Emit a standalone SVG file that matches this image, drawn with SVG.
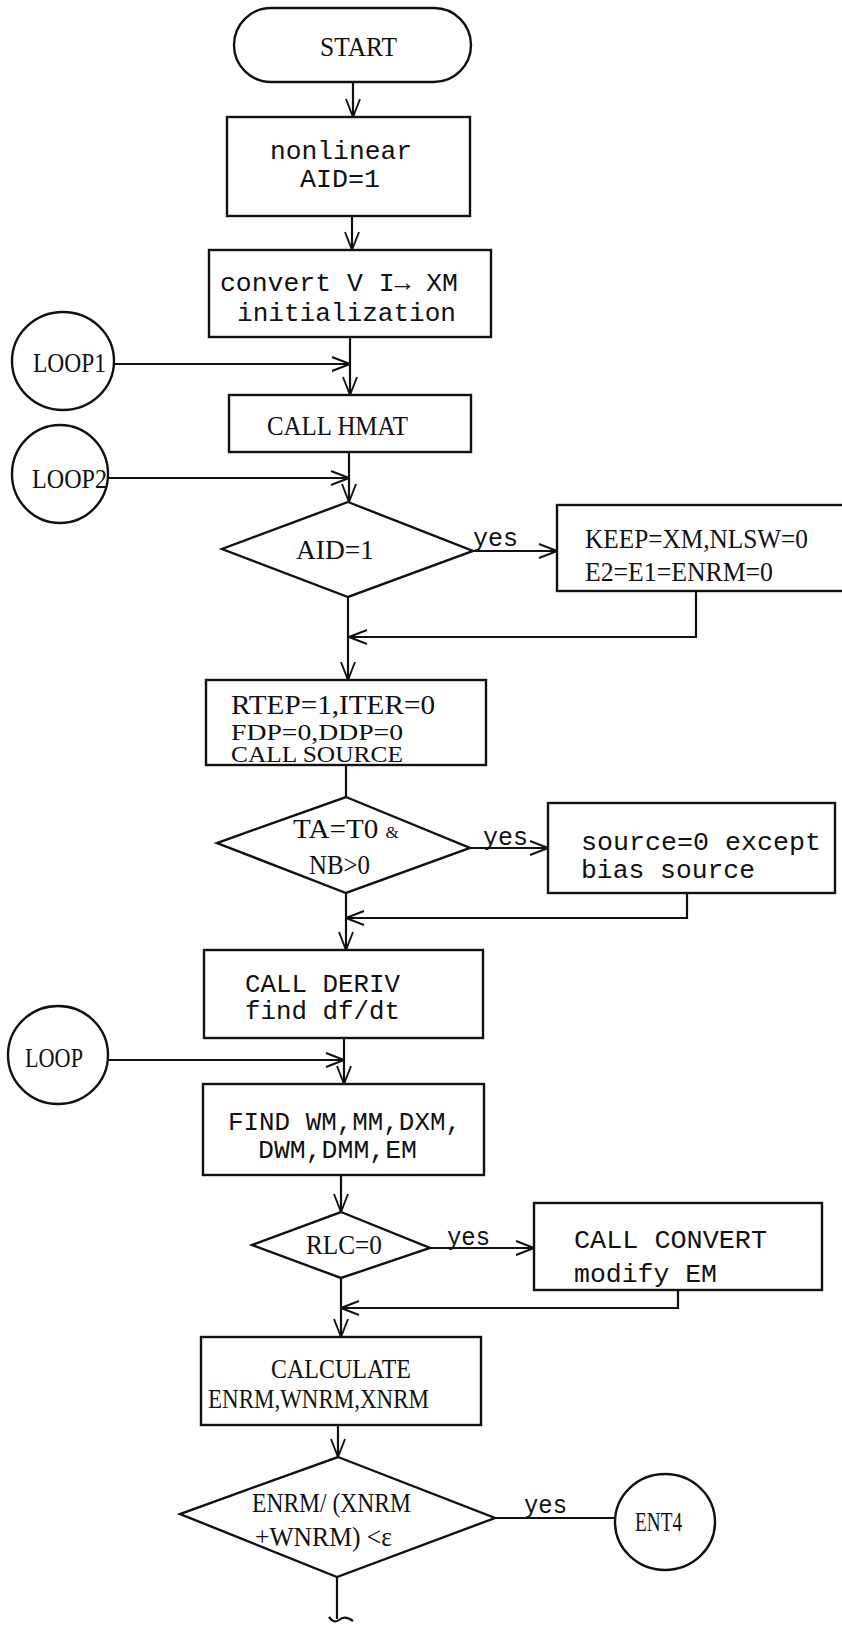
<svg xmlns="http://www.w3.org/2000/svg" width="842" height="1625" viewBox="0 0 842 1625">
  <defs>
    <marker id="arr" viewBox="0 0 20 16" refX="19" refY="8" markerWidth="20" markerHeight="16" markerUnits="userSpaceOnUse" orient="auto">
      <path d="M1,1 L19,8 L1,15" fill="none" stroke="#111" stroke-width="1.9"/>
    </marker>
  </defs>
  <style>
    .box { fill: #fff; stroke: #111; stroke-width: 2.4; }
    .ln { fill: none; stroke: #111; stroke-width: 2.2; }
    .ar { marker-end: url(#arr); }
    .mono { font-family: "Liberation Mono", "DejaVu Sans Mono", monospace; font-size: 26px; fill: #111; }
    .serif { font-family: "Liberation Serif", "DejaVu Serif", serif; font-size: 27px; fill: #111; }
    .tight { font-size: 23px; }
  </style>
  <rect width="842" height="1625" fill="#fff"/>

  <!-- connectors -->
  <g id="connectors">
    <path class="ln ar" d="M353,82 V117"/>
    <path class="ln ar" d="M352,216 V250"/>
    <path class="ln ar" d="M350,337 V395"/>
    <path class="ln ar" d="M113,364 H350"/>
    <path class="ln ar" d="M349,452 V502"/>
    <path class="ln ar" d="M108,478 H349"/>
    <path class="ln ar" d="M473,551 H557"/>
    <path class="ln ar" d="M696,591 V637 H349"/>
    <path class="ln ar" d="M348,597 V680"/>
    <path class="ln" d="M346,765 V797"/>
    <path class="ln ar" d="M470,848 H548"/>
    <path class="ln ar" d="M687,893 V918 H346"/>
    <path class="ln ar" d="M346,893 V950"/>
    <path class="ln ar" d="M344,1038 V1084"/>
    <path class="ln ar" d="M108,1060 H344"/>
    <path class="ln ar" d="M341,1175 V1212"/>
    <path class="ln ar" d="M430,1248 H534"/>
    <path class="ln ar" d="M678,1290 V1308 H341"/>
    <path class="ln ar" d="M341,1278 V1337"/>
    <path class="ln ar" d="M338,1425 V1457"/>
    <path class="ln" d="M495,1518 H615"/>
    <path class="ln" d="M337,1577 V1619"/>
    <path class="ln" d="M329,1617 q5,7 10,3 q6,-5 14,1" stroke-width="2.8"/>
  </g>

  <g id="start">
    <rect class="box" x="234" y="8" width="237" height="74" rx="37"/>
    <text class="serif" x="320" y="56" textLength="77" lengthAdjust="spacingAndGlyphs">START</text>
  </g>

  <g id="nonlinear">
    <rect class="box" x="227" y="117" width="243" height="99"/>
    <text class="mono" x="270" y="159" textLength="142" lengthAdjust="spacingAndGlyphs">nonlinear</text>
    <text class="mono" x="300" y="187" textLength="80" lengthAdjust="spacingAndGlyphs">AID=1</text>
  </g>

  <g id="convert">
    <rect class="box" x="209" y="250" width="282" height="87"/>
    <text class="mono" x="220" y="291" textLength="238" lengthAdjust="spacingAndGlyphs">convert V I→ XM</text>
    <text class="mono" x="237" y="321" textLength="219" lengthAdjust="spacingAndGlyphs">initialization</text>
  </g>

  <g id="loop1">
    <ellipse class="box" cx="63" cy="361" rx="51" ry="49"/>
    <text class="serif" x="33" y="372" textLength="73" lengthAdjust="spacingAndGlyphs">LOOP1</text>
  </g>

  <g id="hmat">
    <rect class="box" x="229" y="395" width="242" height="57"/>
    <text class="serif" x="267" y="435" textLength="141" lengthAdjust="spacingAndGlyphs">CALL HMAT</text>
  </g>

  <g id="loop2">
    <ellipse class="box" cx="60" cy="474" rx="48" ry="49"/>
    <text class="serif" x="32" y="488" textLength="75" lengthAdjust="spacingAndGlyphs">LOOP2</text>
  </g>

  <g id="aid-check">
    <polygon class="box" points="348,502 473,551 348,597 222,549"/>
    <text class="serif" x="296" y="559" textLength="78" lengthAdjust="spacingAndGlyphs">AID=1</text>
    <text class="mono" x="473" y="546" textLength="45" lengthAdjust="spacingAndGlyphs">yes</text>
  </g>

  <g id="keep">
    <rect class="box" x="557" y="505" width="293" height="86"/>
    <text class="serif" x="585" y="548" textLength="223" lengthAdjust="spacingAndGlyphs">KEEP=XM,NLSW=0</text>
    <text class="serif" x="585" y="581" textLength="188" lengthAdjust="spacingAndGlyphs">E2=E1=ENRM=0</text>
  </g>

  <g id="rtep">
    <rect class="box" x="206" y="680" width="280" height="85"/>
    <text class="serif" x="231" y="714" textLength="204" lengthAdjust="spacingAndGlyphs">RTEP=1,ITER=0</text>
    <text class="serif tight" x="231" y="740" textLength="172" lengthAdjust="spacingAndGlyphs">FDP=0,DDP=0</text>
    <text class="serif tight" x="231" y="762" textLength="172" lengthAdjust="spacingAndGlyphs">CALL SOURCE</text>
  </g>

  <g id="ta-check">
    <polygon class="box" points="346,797 470,848 346,893 217,843"/>
    <text class="serif" x="293" y="838" textLength="106" lengthAdjust="spacingAndGlyphs">TA=T0 <tspan font-size="16">&amp;</tspan></text>
    <text class="serif" x="309" y="874" textLength="61" lengthAdjust="spacingAndGlyphs">NB&gt;0</text>
    <text class="mono" x="483" y="845" textLength="45" lengthAdjust="spacingAndGlyphs">yes</text>
  </g>

  <g id="source">
    <rect class="box" x="548" y="803" width="287" height="90"/>
    <text class="mono" x="581" y="850" textLength="240" lengthAdjust="spacingAndGlyphs">source=0 except</text>
    <text class="mono" x="581" y="878" textLength="174" lengthAdjust="spacingAndGlyphs">bias source</text>
  </g>

  <g id="deriv">
    <rect class="box" x="204" y="950" width="279" height="88"/>
    <text class="mono" x="245" y="992" textLength="155" lengthAdjust="spacingAndGlyphs">CALL DERIV</text>
    <text class="mono" x="245" y="1019" textLength="155" lengthAdjust="spacingAndGlyphs">find df/dt</text>
  </g>

  <g id="loop">
    <ellipse class="box" cx="58" cy="1055" rx="50" ry="49"/>
    <text class="serif" x="25" y="1067" textLength="58" lengthAdjust="spacingAndGlyphs">LOOP</text>
  </g>

  <g id="find">
    <rect class="box" x="203" y="1084" width="281" height="91"/>
    <text class="mono" x="228" y="1130" textLength="233" lengthAdjust="spacingAndGlyphs">FIND WM,MM,DXM,</text>
    <text class="mono" x="258" y="1158" textLength="159" lengthAdjust="spacingAndGlyphs">DWM,DMM,EM</text>
  </g>

  <g id="rlc-check">
    <polygon class="box" points="341,1212 430,1248 341,1278 252,1245"/>
    <text class="serif" x="306" y="1254" textLength="76" lengthAdjust="spacingAndGlyphs">RLC=0</text>
    <text class="mono" x="447" y="1245" textLength="43" lengthAdjust="spacingAndGlyphs">yes</text>
  </g>

  <g id="call-convert">
    <rect class="box" x="534" y="1203" width="288" height="87"/>
    <text class="mono" x="574" y="1248" textLength="193" lengthAdjust="spacingAndGlyphs">CALL CONVERT</text>
    <text class="mono" x="574" y="1282" textLength="143" lengthAdjust="spacingAndGlyphs">modify EM</text>
  </g>

  <g id="calculate">
    <rect class="box" x="201" y="1337" width="280" height="88"/>
    <text class="serif" x="271" y="1378" textLength="140" lengthAdjust="spacingAndGlyphs">CALCULATE</text>
    <text class="serif" x="208" y="1408" textLength="221" lengthAdjust="spacingAndGlyphs">ENRM,WNRM,XNRM</text>
  </g>

  <g id="norm-check">
    <polygon class="box" points="338,1457 495,1518 337,1577 180,1514"/>
    <text class="serif" x="252" y="1512" textLength="159" lengthAdjust="spacingAndGlyphs">ENRM/ (XNRM</text>
    <text class="serif" x="255" y="1546" textLength="137" lengthAdjust="spacingAndGlyphs">+WNRM) &lt;ε</text>
    <text class="mono" x="524" y="1513" textLength="43" lengthAdjust="spacingAndGlyphs">yes</text>
  </g>

  <g id="ent4">
    <ellipse class="box" cx="665" cy="1522" rx="50" ry="48"/>
    <text class="serif" x="635" y="1531" textLength="47" lengthAdjust="spacingAndGlyphs">ENT4</text>
  </g>
</svg>
